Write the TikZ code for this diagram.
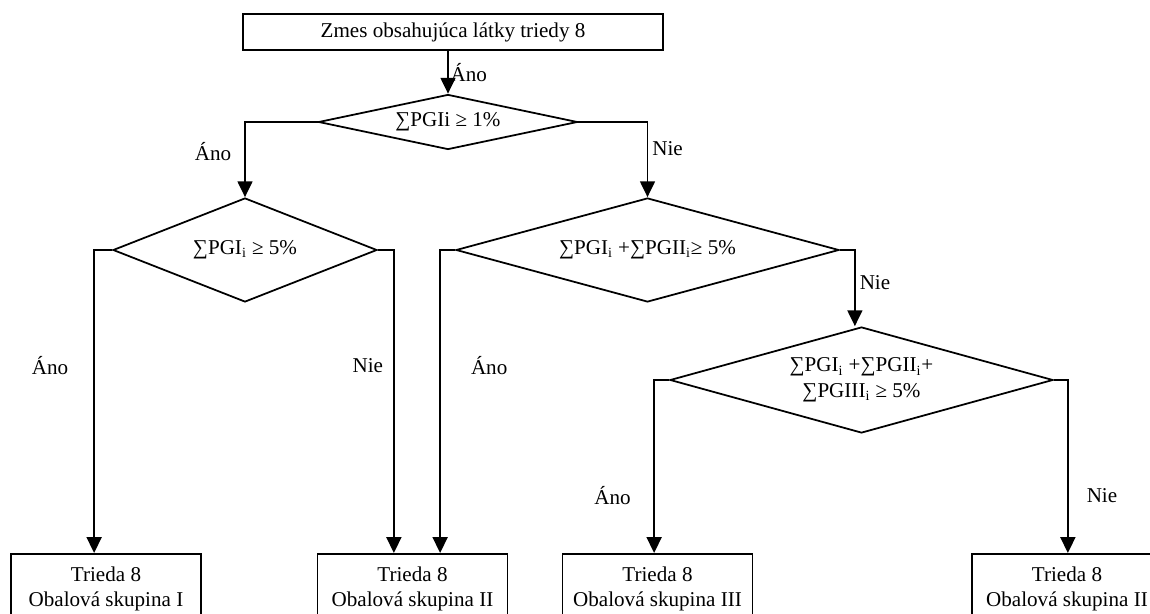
\documentclass[tikz,border=0pt]{standalone}
\usepackage{fontspec}
\setmainfont{Liberation Serif}
\usetikzlibrary{shapes.geometric,arrows.meta}

\begin{document}
\begin{tikzpicture}[
    font=\fontsize{12}{14.5}\selectfont,
    line width=1pt,
    arr/.style={-{Triangle[length=9pt,width=8.5pt]}},
    box/.style={draw,minimum width=3.8cm,align=center,inner xsep=2pt,inner ysep=0.25cm,anchor=north},
    test/.style={draw,diamond,inner sep=0pt,align=center},
    lab/.style={inner sep=0pt}
  ]
    % Page frame
    \clip (0,0) rectangle (23,12.26);

    % Start
    \node[draw,minimum width=8.4cm,minimum height=0.72cm,inner sep=0pt] (start) at (9.06,11.62) {Zmes obsahujúca látky triedy 8};

    % Decisions
    \node[test,minimum width=5.18cm,minimum height=1.1cm,aspect=4.7] (d1) at (8.96,9.82) {∑PGIi ≥ 1\%};
    \node[test,minimum width=5.28cm,minimum height=2.08cm,aspect=2.54] (d2) at (4.9,7.26) {∑PGI\textsubscript{i} ≥ 5\%};
    \node[test,minimum width=7.66cm,minimum height=2.08cm,aspect=3.68] (d3) at (12.95,7.26) {∑PGI\textsubscript{i} +∑PGII\textsubscript{i}≥ 5\%};
    \node[test,minimum width=7.66cm,minimum height=2.12cm,aspect=3.6] (d4) at (17.23,4.66) {∑PGI\textsubscript{i} +∑PGII\textsubscript{i}+\\∑PGIII\textsubscript{i} ≥ 5\%};

    % Results
    \node[box] (b1) at (2.12,1.2) {Trieda 8\\Obalová skupina I};
    \node[box] (b2) at (8.25,1.2) {Trieda 8\\Obalová skupina II};
    \node[box] (b3) at (13.15,1.2) {Trieda 8\\Obalová skupina III};
    \node[box] (b4) at (21.34,1.2) {Trieda 8\\Obalová skupina II};

    % Arrows
    \draw[arr] (start.south -| d1.north) -- node[lab,right=1pt] (l0) {Áno} (d1.north);
    \draw[arr] (d1.west) -| node[lab,pos=0.7,left=0.26cm] (l1) {Áno} (d2.north);
    \draw[arr] (d1.east) -| node[lab,pos=0.68,right=0.08cm] (l2) {Nie} (d3.north);
    \draw[arr] (d2.west) -- ++(-0.36,0) coordinate (c1) -- node[lab,pos=0.38,left=0.5cm] (l3) {Áno} (c1 |- b1.north);
    \draw[arr] (d2.east) -- ++(0.32,0) coordinate (c2) -- node[lab,pos=0.38,left=0.2cm] (l4) {Nie} (c2 |- b2.north);
    \draw[arr] (d3.west) -- ++(-0.3,0) coordinate (c3) -- node[lab,pos=0.38,right=0.6cm] (l5) {Áno} (c3 |- b2.north);
    \draw[arr] (d3.east) -- ++(0.3,0) coordinate (c4) -- node[lab,pos=0.43,right=0.08cm] (l6) {Nie} (c4 |- d4.north);
    \draw[arr] (d4.west) -- ++(-0.3,0) coordinate (c5) -- node[lab,pos=0.67,left=0.45cm] (l7) {Áno} (c5 |- b3.north);
    \draw[arr] (d4.east) -- ++(0.28,0) coordinate (c6) -- node[lab,pos=0.67,right=0.36cm] (l8) {Nie} (c6 |- b4.north);
\end{tikzpicture}
\end{document}
